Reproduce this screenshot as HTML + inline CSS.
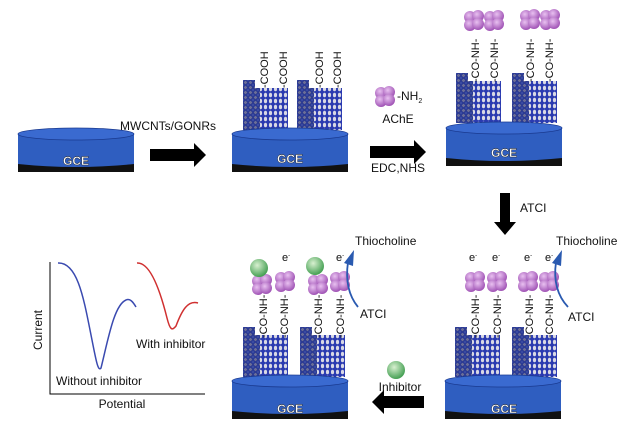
<!DOCTYPE html>
<html><head><meta charset="utf-8"><style>
html,body{margin:0;padding:0;background:#fff;}
svg{display:block;}
text{font-family:"Liberation Sans",Arial,sans-serif;fill:#111;}
</style></head><body>
<svg width="639" height="433" viewBox="0 0 639 433" xmlns="http://www.w3.org/2000/svg">
<defs>
<pattern id="hd" width="5" height="5" patternUnits="userSpaceOnUse">
<rect width="5" height="5" fill="#3a4aa0"/><path d="M0 2.5 L2.5 0 L5 2.5 L2.5 5Z" fill="#6a6e98" stroke="#1a2a8a" stroke-width="0.7"/></pattern>
<pattern id="hl" width="5" height="6" patternUnits="userSpaceOnUse">
<rect width="5" height="6" fill="#2a3ab0"/><ellipse cx="2.5" cy="3" rx="1.6" ry="2.3" fill="#d8d8e4"/></pattern>
<radialGradient id="pu" cx="0.4" cy="0.35" r="0.7"><stop offset="0" stop-color="#e8c0f0"/><stop offset="1" stop-color="#9a4ab0"/></radialGradient>
<radialGradient id="gr" cx="0.4" cy="0.35" r="0.7"><stop offset="0" stop-color="#d8f0d0"/><stop offset="1" stop-color="#3a9a4a"/></radialGradient>
<g id="disc">
<rect x="0" y="6" width="116" height="38" fill="#111"/>
<path d="M0 6 V36 Q58 42 116 36 V6Z" fill="#2f5ec0"/>
<ellipse cx="58" cy="6" rx="58" ry="6" fill="#3a6ad0" stroke="#1a3a90" stroke-width="0.8"/>
</g>
<g id="tube">
<rect x="0" y="0" width="12" height="10" fill="url(#hd)"/>
<rect x="0" y="8" width="18" height="42" fill="url(#hd)"/>
<rect x="17" y="8" width="28" height="42" fill="url(#hl)"/>
</g>
<g id="enz">
<circle cx="-4" cy="-3" r="6" fill="url(#pu)"/><circle cx="4" cy="-4" r="6" fill="url(#pu)"/>
<circle cx="-4" cy="5" r="6" fill="url(#pu)"/><circle cx="4" cy="4" r="6" fill="url(#pu)"/>
</g>
<g id="grn"><circle cx="0" cy="0" r="9" fill="url(#gr)"/></g>
<g id="arr"><path d="M0 -6 H44 V-12 L56 0 L44 12 V6 H0Z" fill="#000"/></g>
</defs>

<!-- GCE1 -->
<use href="#disc" x="18" y="128"/>
<text x="76" y="165" font-size="12" font-weight="bold" text-anchor="middle" style="fill:#fff" stroke="#222" stroke-width="0.4">GCE</text>
<text x="168" y="130" font-size="12" text-anchor="middle">MWCNTs/GONRs</text>
<use href="#arr" x="150" y="155"/>

<!-- GCE2 -->
<use href="#tube" x="243" y="80"/><use href="#tube" x="297" y="80"/>
<use href="#disc" x="232" y="128"/>
<text x="290" y="163" font-size="12" font-weight="bold" text-anchor="middle" style="fill:#fff" stroke="#222" stroke-width="0.4">GCE</text>
<g font-size="11">
<text transform="translate(268,88) rotate(-90)">-COOH</text>
<text transform="translate(287,88) rotate(-90)">-COOH</text>
<text transform="translate(323,88) rotate(-90)">-COOH</text>
<text transform="translate(341,88) rotate(-90)">-COOH</text>
</g>

<!-- Arrow2 -->
<use href="#enz" x="385" y="96"/>
<text x="397" y="100" font-size="12">-NH<tspan font-size="7" dy="3">2</tspan></text>
<text x="398" y="123" font-size="12" text-anchor="middle">AChE</text>
<use href="#arr" x="370" y="152"/>
<text x="398" y="172" font-size="12" text-anchor="middle">EDC,NHS</text>

<!-- GCE3 -->
<use href="#tube" x="456" y="73"/><use href="#tube" x="512" y="73"/>
<use href="#disc" x="446" y="122"/>
<text x="504" y="157" font-size="12" font-weight="bold" text-anchor="middle" style="fill:#fff" stroke="#222" stroke-width="0.4">GCE</text>
<use href="#enz" x="474" y="20"/><use href="#enz" x="494" y="20"/><use href="#enz" x="530" y="19"/><use href="#enz" x="550" y="19"/>
<g font-size="11">
<text transform="translate(479,82) rotate(-90)">-CO-NH-</text>
<text transform="translate(498,82) rotate(-90)">-CO-NH-</text>
<text transform="translate(534,82) rotate(-90)">-CO-NH-</text>
<text transform="translate(553,82) rotate(-90)">-CO-NH-</text>
</g>

<!-- down arrow -->
<path d="M500 193 H510 V222 H516 L505 235 L494 222 H500Z" fill="#000"/>
<text x="520" y="212" font-size="12">ATCI</text>

<!-- GCE4 bottom right -->
<use href="#tube" x="455" y="327"/><use href="#tube" x="512" y="327"/>
<use href="#disc" x="445" y="375"/>
<text x="504" y="413" font-size="12" font-weight="bold" text-anchor="middle" style="fill:#fff" stroke="#222" stroke-width="0.4">GCE</text>
<use href="#enz" x="475" y="281"/><use href="#enz" x="497" y="281"/><use href="#enz" x="528" y="281"/><use href="#enz" x="549" y="281"/>
<g font-size="11">
<text transform="translate(479,338) rotate(-90)">-CO-NH-</text>
<text transform="translate(501,338) rotate(-90)">-CO-NH-</text>
<text transform="translate(533,338) rotate(-90)">-CO-NH-</text>
<text transform="translate(553,338) rotate(-90)">-CO-NH-</text>
</g>
<g font-size="11"><text x="469" y="261">e<tspan font-size="6" dy="-4">-</tspan></text><text x="492" y="261">e<tspan font-size="6" dy="-4">-</tspan></text><text x="524" y="261">e<tspan font-size="6" dy="-4">-</tspan></text><text x="545" y="261">e<tspan font-size="6" dy="-4">-</tspan></text></g>
<path d="M568 307 Q552 290 556 262" fill="none" stroke="#2a5ab0" stroke-width="1.8"/>
<path d="M552 263 L562 250 L561 266Z" fill="#2a5ab0"/>
<text x="556" y="245" font-size="12">Thiocholine</text>
<text x="568" y="321" font-size="12">ATCI</text>

<!-- inhibitor arrow -->
<use href="#grn" x="396" y="370"/>
<text x="400" y="391" font-size="12" text-anchor="middle">Inhibitor</text>
<path d="M424 396 H384 V390 L372 402 L384 414 V408 H424Z" fill="#000"/>

<!-- GCE5 bottom middle -->
<use href="#tube" x="243" y="327"/><use href="#tube" x="300" y="327"/>
<use href="#disc" x="232" y="375"/>
<text x="290" y="413" font-size="12" font-weight="bold" text-anchor="middle" style="fill:#fff" stroke="#222" stroke-width="0.4">GCE</text>
<use href="#enz" x="262" y="284"/><use href="#enz" x="285" y="281"/><use href="#enz" x="318" y="284"/><use href="#enz" x="340" y="281"/>
<use href="#grn" x="259" y="268"/><use href="#grn" x="315" y="266"/>
<g font-size="11">
<text transform="translate(267,338) rotate(-90)">-CO-NH-</text>
<text transform="translate(288,338) rotate(-90)">-CO-NH-</text>
<text transform="translate(322,338) rotate(-90)">-CO-NH-</text>
<text transform="translate(344,338) rotate(-90)">-CO-NH-</text>
</g>
<g font-size="11"><text x="282" y="261">e<tspan font-size="6" dy="-4">-</tspan></text><text x="336" y="261">e<tspan font-size="6" dy="-4">-</tspan></text></g>
<path d="M358 307 Q344 290 348 262" fill="none" stroke="#2a5ab0" stroke-width="1.8"/>
<path d="M344 263 L354 250 L353 266Z" fill="#2a5ab0"/>
<text x="355" y="245" font-size="12">Thiocholine</text>
<text x="360" y="318" font-size="12">ATCI</text>

<!-- graph -->
<path d="M50 262 V394 H205" fill="none" stroke="#000" stroke-width="1"/>
<text transform="translate(42,330) rotate(-90)" font-size="12" text-anchor="middle">Current</text>
<text x="122" y="408" font-size="12" text-anchor="middle">Potential</text>
<path d="M58 263 C78 262 84 300 92 340 C96 360 98 372 101 368 C108 340 114 305 126 300 C130 298 133 302 136 307" fill="none" stroke="#3a4ab0" stroke-width="1.5"/>
<path d="M137 263 C150 262 160 290 167 318 C170 330 172 331 176 326 C182 310 188 300 198 303" fill="none" stroke="#d03030" stroke-width="1.5"/>
<text x="136" y="348" font-size="12">With inhibitor</text>
<text x="56" y="385" font-size="12">Without inhibitor</text>
</svg>
</body></html>
